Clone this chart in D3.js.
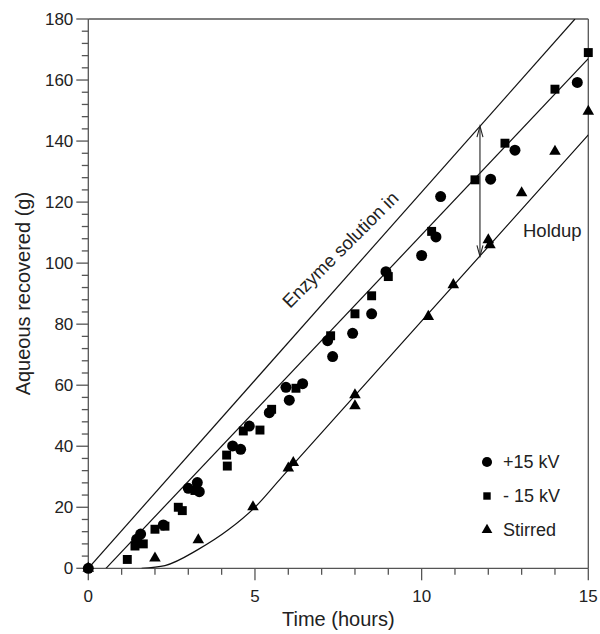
<!DOCTYPE html>
<html>
<head>
<meta charset="utf-8">
<script src="https://cdn.jsdelivr.net/npm/d3@7/dist/d3.min.js"></script>
<style>
  html, body { margin: 0; padding: 0; background: #fff; }
  svg { display: block; }
  text { font-family: Arial, "Liberation Sans", sans-serif; fill: #222; }
</style>
</head>
<body>
<svg id="chart" width="600" height="634"></svg>
<script>
// Measured recovery of aqueous phase (g) against time (hours)
const plus15 = [
  [0, 0], [1.45, 9.5], [1.57, 11.2], [2.25, 14.2], [3.0, 26.2], [3.27, 28.1], [3.33, 25.1],
  [4.33, 40.1], [4.57, 39.0], [4.83, 46.6], [5.43, 51.0], [5.93, 59.3], [6.03, 55.1],
  [6.43, 60.5], [7.18, 74.6], [7.33, 69.4], [7.93, 77.0], [8.5, 83.4], [8.93, 97.2],
  [10.0, 102.5], [10.43, 108.6], [10.57, 121.8], [12.07, 127.5], [12.8, 137.0], [14.67, 159.2]
];
const minus15 = [
  [1.17, 2.9], [1.4, 7.3], [1.65, 8.0], [2.0, 12.8], [2.3, 13.8], [2.7, 20.0], [2.82, 18.9],
  [3.2, 25.5], [4.15, 37.1], [4.17, 33.5], [4.65, 45.0], [5.15, 45.3], [5.5, 52.1],
  [6.23, 59.0], [7.27, 76.2], [8.0, 83.4], [8.5, 89.3], [9.0, 95.6], [10.3, 110.4],
  [11.6, 127.3], [12.5, 139.3], [14.0, 157.0], [15.0, 169.0]
];
const stirred = [
  [0, 0], [2.0, 3.3], [3.3, 9.3], [4.94, 20.1], [6.0, 32.8], [6.15, 34.6], [8.0, 56.8],
  [8.0, 53.2], [10.2, 82.5], [10.95, 92.9], [12.0, 107.6], [12.05, 106.0], [13.0, 123.0],
  [14.0, 136.6], [15.0, 149.7]
];

// Guide lines
const enzymeLine = [[0, 0], [14.6, 180]];
const electroFit = [[0.53, 0], [15, 167]];
const stirredFit = [[1.6, 0], [2.3, 0.9], [3.3, 6.2], [4.2, 12.6], [5.0, 20.0], [5.8, 29.8], [15, 142]];
const holdupArrow = { t: 11.75, top: 144.9, bottom: 102.2 };

// Axis ticks
const xMajor = [0, 5, 10, 15];
const xMinor = d3.range(0, 16, 1);
const yMajor = d3.range(0, 181, 20);
const yMinor = d3.range(0, 181, 4);

const legendItems = [
  { label: "+15 kV", shape: "circle" },
  { label: "- 15 kV", shape: "square" },
  { label: "Stirred", shape: "triangle" }
];

const svg = d3.select("#chart");
const plotL = 88.3, plotR = 588.3, plotT = 19, plotB = 568.3;

const x = d3.scaleLinear().domain([0, 15]).range([plotL, plotR]);
const y = d3.scaleLinear().domain([0, 180]).range([plotB, plotT]);

const axisColor = "#555";

// Frame: top and right edges
svg.append("line").attr("x1", plotL).attr("x2", plotR).attr("y1", plotT).attr("y2", plotT)
  .attr("stroke", axisColor).attr("stroke-width", 1.3);
svg.append("line").attr("x1", plotR).attr("x2", plotR).attr("y1", plotT).attr("y2", plotB)
  .attr("stroke", axisColor).attr("stroke-width", 1.3);

// Bottom axis
const xAxisG = svg.append("g").attr("transform", `translate(0,${plotB})`);
xAxisG.append("line").attr("x1", plotL).attr("x2", plotR).attr("stroke", axisColor).attr("stroke-width", 1.3);
xAxisG.selectAll("line.tick").data(xMinor).join("line").attr("class", "tick")
  .attr("x1", d => x(d)).attr("x2", d => x(d))
  .attr("y1", 0).attr("y2", d => xMajor.includes(d) ? 12 : 6.5)
  .attr("stroke", axisColor).attr("stroke-width", 1.3);
xAxisG.selectAll("text").data(xMajor).join("text")
  .attr("x", d => x(d)).attr("y", 34)
  .attr("text-anchor", "middle").attr("font-size", 17).text(d => d);

// Left axis
const yAxisG = svg.append("g").attr("transform", `translate(${plotL},0)`);
yAxisG.append("line").attr("y1", plotT).attr("y2", plotB).attr("stroke", axisColor).attr("stroke-width", 1.3);
yAxisG.selectAll("line.tick").data(yMinor).join("line").attr("class", "tick")
  .attr("y1", d => y(d)).attr("y2", d => y(d))
  .attr("x1", 0).attr("x2", d => yMajor.includes(d) ? -12 : -6.5)
  .attr("stroke", axisColor).attr("stroke-width", 1.3);
yAxisG.selectAll("text").data(yMajor).join("text")
  .attr("x", -15).attr("y", d => y(d)).attr("dy", "0.35em")
  .attr("text-anchor", "end").attr("font-size", 17).text(d => d);

// Axis titles
svg.append("text").attr("x", x(7.5)).attr("y", 626)
  .attr("text-anchor", "middle").attr("font-size", 20).text("Time (hours)");
svg.append("text")
  .attr("transform", `translate(30,${(plotT + plotB) / 2}) rotate(-90)`)
  .attr("text-anchor", "middle").attr("font-size", 20).text("Aqueous recovered (g)");

// Fitted lines
const clipId = "plotClip";
svg.append("clipPath").attr("id", clipId).append("rect")
  .attr("x", plotL).attr("y", plotT).attr("width", plotR - plotL).attr("height", plotB - plotT);

const straight = d3.line().x(d => x(d[0])).y(d => y(d[1]));
const smooth = d3.line().x(d => x(d[0])).y(d => y(d[1])).curve(d3.curveMonotoneX);
const lines = svg.append("g").attr("clip-path", `url(#${clipId})`);
lines.append("path").datum(enzymeLine).attr("d", straight)
  .attr("fill", "none").attr("stroke", "#111").attr("stroke-width", 1.2);
lines.append("path").datum(electroFit).attr("d", straight)
  .attr("fill", "none").attr("stroke", "#111").attr("stroke-width", 1.2);
lines.append("path").datum(stirredFit).attr("d", smooth)
  .attr("fill", "none").attr("stroke", "#111").attr("stroke-width", 1.2);

// Holdup arrow (double-headed)
const ax = x(holdupArrow.t), ay1 = y(holdupArrow.top), ay2 = y(holdupArrow.bottom);
const arrow = svg.append("g").attr("stroke", "#222").attr("stroke-width", 1.1).attr("fill", "none");
arrow.append("line").attr("x1", ax).attr("x2", ax).attr("y1", ay1).attr("y2", ay2);
arrow.append("path").attr("d", `M${ax - 3},${ay1 + 11} L${ax},${ay1} L${ax + 3},${ay1 + 11}`);
arrow.append("path").attr("d", `M${ax - 3},${ay2 - 11} L${ax},${ay2} L${ax + 3},${ay2 - 11}`);

// Annotations
svg.append("text")
  .attr("transform", "translate(290,309) rotate(-45)")
  .attr("font-size", 18.5).text("Enzyme solution in");
svg.append("text").attr("x", 523).attr("y", 237).attr("font-size", 18.5).text("Holdup");

// Markers
const shapeFor = { circle: d3.symbolCircle, square: d3.symbolSquare, triangle: d3.symbolTriangle };
const markerSize = { circle: 95, square: 80, triangle: 58 };

function drawSeries(data, shape) {
  svg.append("g").selectAll("path").data(data).join("path")
    .attr("transform", d => `translate(${x(d[0])},${y(d[1])})`)
    .attr("d", d3.symbol().type(shapeFor[shape]).size(markerSize[shape]))
    .attr("fill", "#000");
}
drawSeries(stirred, "triangle");
drawSeries(minus15, "square");
drawSeries(plus15, "circle");

// Legend
const legendSize = { circle: 80, square: 55, triangle: 50 };
const legend = svg.append("g").attr("transform", "translate(487,462)");
legendItems.forEach((it, i) => {
  const g = legend.append("g").attr("transform", `translate(0,${i * 34})`);
  g.append("path").attr("d", d3.symbol().type(shapeFor[it.shape]).size(legendSize[it.shape])())
    .attr("fill", "#000");
  g.append("text").attr("x", 16).attr("dy", "0.35em").attr("font-size", 18).text(it.label);
});
</script>
</body>
</html>
